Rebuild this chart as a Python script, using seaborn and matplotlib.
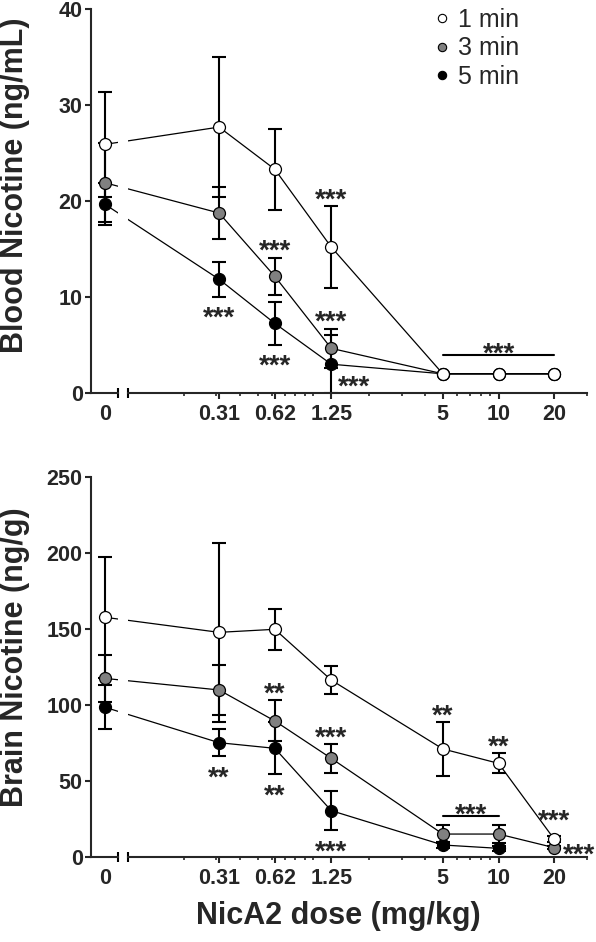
import numpy as np
import pandas as pd
import matplotlib
matplotlib.use("Agg")
import matplotlib.pyplot as plt
import seaborn as sns
from matplotlib.ticker import FixedLocator, FixedFormatter, LogLocator, NullFormatter
from matplotlib.lines import Line2D

# NicA2 doses (mg/kg); dose 0 sits on its own stub left of the axis break
doses = [0, 0.31, 0.62, 1.25, 5, 10, 20]
dose_labels = ["0", "0.31", "0.62", "1.25", "5", "10", "20"]
times = ["1 min", "3 min", "5 min"]

# blood nicotine (ng/mL), mean and SD
blood_1min = [25.9, 27.7, 23.3, 15.2, 2.0, 2.0, 2.0]
blood_1min_sd = [5.5, 7.3, 4.2, 4.3, 0, 0, 0]
blood_3min = [21.9, 18.75, 12.15, 4.65, 2.0, 2.0, 2.0]
blood_3min_sd = [4.1, 2.75, 1.95, 2.05, 0, 0, 0]
blood_5min = [19.65, 11.85, 7.25, 3.0, 2.0, 2.0, 2.0]
blood_5min_sd = [2.2, 1.8, 2.2, 3.0, 0, 0, 0]

# brain nicotine (ng/g), mean and SD (no 5 min value at 20 mg/kg)
brain_1min = [157.5, 147.6, 149.6, 116.2, 70.9, 61.4, 11.4]
brain_1min_sd = [40, 59, 13.6, 9, 17.7, 6.5, 2]
brain_3min = [117.3, 109.7, 89.3, 64.7, 14.9, 14.9, 5.9]
brain_3min_sd = [15.4, 16.5, 13.5, 9.6, 6, 6, 1]
brain_5min = [98.3, 75.0, 71.3, 30.3, 7.7, 5.5, np.nan]
brain_5min_sd = [14.5, 9, 17, 13, 2, 1.5, np.nan]

# significance marks: (series, dose, text, placement)
blood_stars = [("5 min", 0.31, "***", "below"), ("3 min", 0.62, "***", "above"),
               ("5 min", 0.62, "***", "below"), ("1 min", 1.25, "***", "above"),
               ("3 min", 1.25, "***", "above"), ("5 min", 1.25, "***", "lowright")]
brain_stars = [("5 min", 0.31, "**", "below"), ("3 min", 0.62, "**", "above"),
               ("5 min", 0.62, "**", "below"), ("3 min", 1.25, "***", "above"),
               ("5 min", 1.25, "***", "below"), ("1 min", 5, "**", "above"),
               ("1 min", 10, "**", "above"), ("1 min", 20, "***", "high"),
               ("3 min", 20, "***", "right")]
blood_bracket = (5, 20, 4.0)
brain_bracket = (5, 10, 27)

face_colors = {"1 min": "white", "3 min": "#808080", "5 min": "black"}
zorders = {"1 min": 5, "3 min": 4, "5 min": 3}

sns.set_style("ticks")
plt.rcParams["font.family"] = ["Liberation Sans", "DejaVu Sans"]
plt.rcParams["font.weight"] = "bold"

W, H = 596, 942
fig = plt.figure(figsize=(W / 100, H / 100), dpi=100)


def to_frame(means, sds):
    rows = []
    for t in times:
        for d, m, s in zip(doses, means[t], sds[t]):
            rows.append({"time": t, "dose": d, "mean": m, "sd": s})
    return pd.DataFrame(rows).dropna(subset=["mean"])


def draw_panel(top_px, bottom_px, df, ylim, yticks, ylabel, label_y, stars, bracket):
    bottom = 1 - bottom_px / H
    height = (bottom_px - top_px) / H
    ax0 = fig.add_axes([91 / W, bottom, 27 / W, height])
    ax1 = fig.add_axes([128 / W, bottom, 459 / W, height], sharey=ax0)
    ax1.set_xscale("log")

    for t in times:
        sub = df[df["time"] == t]
        for ax, part in ((ax0, sub[sub["dose"] == 0]), (ax1, sub[sub["dose"] > 0])):
            sns.lineplot(data=part, x="dose", y="mean", ax=ax, color="black", lw=0.9,
                         errorbar=None, marker="o", markersize=8.6,
                         markerfacecolor=face_colors[t], markeredgecolor="black",
                         markeredgewidth=0.9, zorder=zorders[t], legend=False)
            eb = part[part["sd"] > 0]
            ax.errorbar(eb["dose"], eb["mean"], yerr=eb["sd"], fmt="none", ecolor="black",
                        elinewidth=1.5, capsize=4.7, capthick=1.5, zorder=2.5)

    ax0.set_xlim(-1, 0.93)
    ax1.set_xlim(0.1, 30)
    ax0.set_ylim(*ylim)
    ax0.autoscale(False)
    ax1.autoscale(False)

    # segment 0 -> first dose, cut by the axis break
    for t in times:
        sub = df[df["time"] == t].set_index("dose")
        p0 = ax0.transData.transform((0, sub.loc[0, "mean"]))
        p1 = ax1.transData.transform((doses[1], sub.loc[doses[1], "mean"]))
        for ax in (ax0, ax1):
            seg = ax.transData.inverted().transform(np.array([p0, p1]))
            ax.plot(seg[:, 0], seg[:, 1], color="black", lw=0.9, zorder=2)

    # axes styling
    for ax in (ax0, ax1):
        ax.set_xlabel("")
        ax.set_ylabel("")
        ax.spines["top"].set_visible(False)
        ax.spines["right"].set_visible(False)
        ax.spines["bottom"].set_linewidth(1.5)
        ax.spines["left"].set_linewidth(1.5)
    ax1.spines["left"].set_visible(False)
    ax1.tick_params(axis="y", left=False, labelleft=False)

    ax0.set_yticks(yticks)
    ax0.set_yticklabels([str(v) for v in yticks])
    ax0.tick_params(axis="y", direction="out", length=4.5, width=1.5, pad=1.5,
                    labelsize=15.5)
    ax0.set_xticks([0])
    ax0.set_xticklabels([dose_labels[0]])
    ax0.tick_params(axis="x", length=0, pad=8, labelsize=15.5)

    ax1.xaxis.set_major_locator(FixedLocator(doses[1:]))
    ax1.xaxis.set_major_formatter(FixedFormatter(dose_labels[1:]))
    ax1.xaxis.set_minor_locator(LogLocator(base=10, subs=np.arange(1, 10)))
    ax1.xaxis.set_minor_formatter(NullFormatter())
    ax1.tick_params(axis="x", which="major", direction="out", length=4, width=1.5,
                    pad=4, labelsize=15.5)
    ax1.tick_params(axis="x", which="minor", direction="out", length=2.5, width=1.2)
    for lab in ax0.get_yticklabels() + ax0.get_xticklabels() + ax1.get_xticklabels():
        lab.set_fontweight("bold")

    # break caps
    ax0.plot([1], [0], marker="|", ms=7, mew=1.5, color="black",
             transform=ax0.transAxes, clip_on=False)
    ax1.plot([0], [0], marker="|", ms=7, mew=1.5, color="black",
             transform=ax1.transAxes, clip_on=False)

    fig.text(15 / W, 1 - label_y / H, ylabel, rotation=90, ha="center", va="center",
             fontsize=22, fontweight="bold")

    # significance asterisks
    for t, d, txt, where in stars:
        row = df[(df["time"] == t) & (df["dose"] == d)].iloc[0]
        m, s = row["mean"], row["sd"]
        ha = "center"
        if where == "above":
            xy, dx, dy = (d, m + s), 0, 10
        elif where == "below":
            xy, dx, dy = (d, m - s), 0, -10
        elif where == "high":
            xy, dx, dy = (d, m), 0, 19
        elif where == "right":
            xy, dx, dy = (d, m), 6, 0
            ha = "left"
        else:
            xy, dx, dy = (d, m), 5, -11
            ha = "left"
        ax1.annotate(txt, xy=xy, xytext=(dx, dy - 11), textcoords="offset points",
                     ha=ha, va="baseline", fontsize=20, fontweight="bold", zorder=6)

    x0, x1, yb = bracket
    ax1.plot([x0, x1], [yb, yb], color="black", lw=1.5)
    ax1.annotate("***", xy=(np.sqrt(x0 * x1), yb), xytext=(0, 6 - 11),
                 textcoords="offset points", ha="center", va="baseline",
                 fontsize=20, fontweight="bold")
    return ax0, ax1


blood = to_frame({"1 min": blood_1min, "3 min": blood_3min, "5 min": blood_5min},
                 {"1 min": blood_1min_sd, "3 min": blood_3min_sd, "5 min": blood_5min_sd})
brain = to_frame({"1 min": brain_1min, "3 min": brain_3min, "5 min": brain_5min},
                 {"1 min": brain_1min_sd, "3 min": brain_3min_sd, "5 min": brain_5min_sd})

draw_panel(9, 393, blood, (0, 40), [0, 10, 20, 30, 40],
           "Blood Nicotine (ng/mL)", 185, blood_stars, blood_bracket)
draw_panel(476.7, 856.7, brain, (0, 250), [0, 50, 100, 150, 200, 250],
           "Brain Nicotine (ng/g)", 657, brain_stars, brain_bracket)

fig.text(338 / W, 1 - 916 / H, "NicA2 dose (mg/kg)", ha="center", va="center",
         fontsize=22, fontweight="bold")

handles = [Line2D([], [], ls="none", marker="o", ms=6, mfc=face_colors[t],
                  mec="black", mew=0.8) for t in times]
fig.legend(handles, times, loc="upper left", bbox_to_anchor=(434 / W, 1 - 8 / H),
           frameon=False, handlelength=0.6, handletextpad=0.35, labelspacing=0.17,
           borderpad=0, borderaxespad=0, prop={"size": 18, "weight": "normal"})

fig.savefig("out.png", dpi=100)
